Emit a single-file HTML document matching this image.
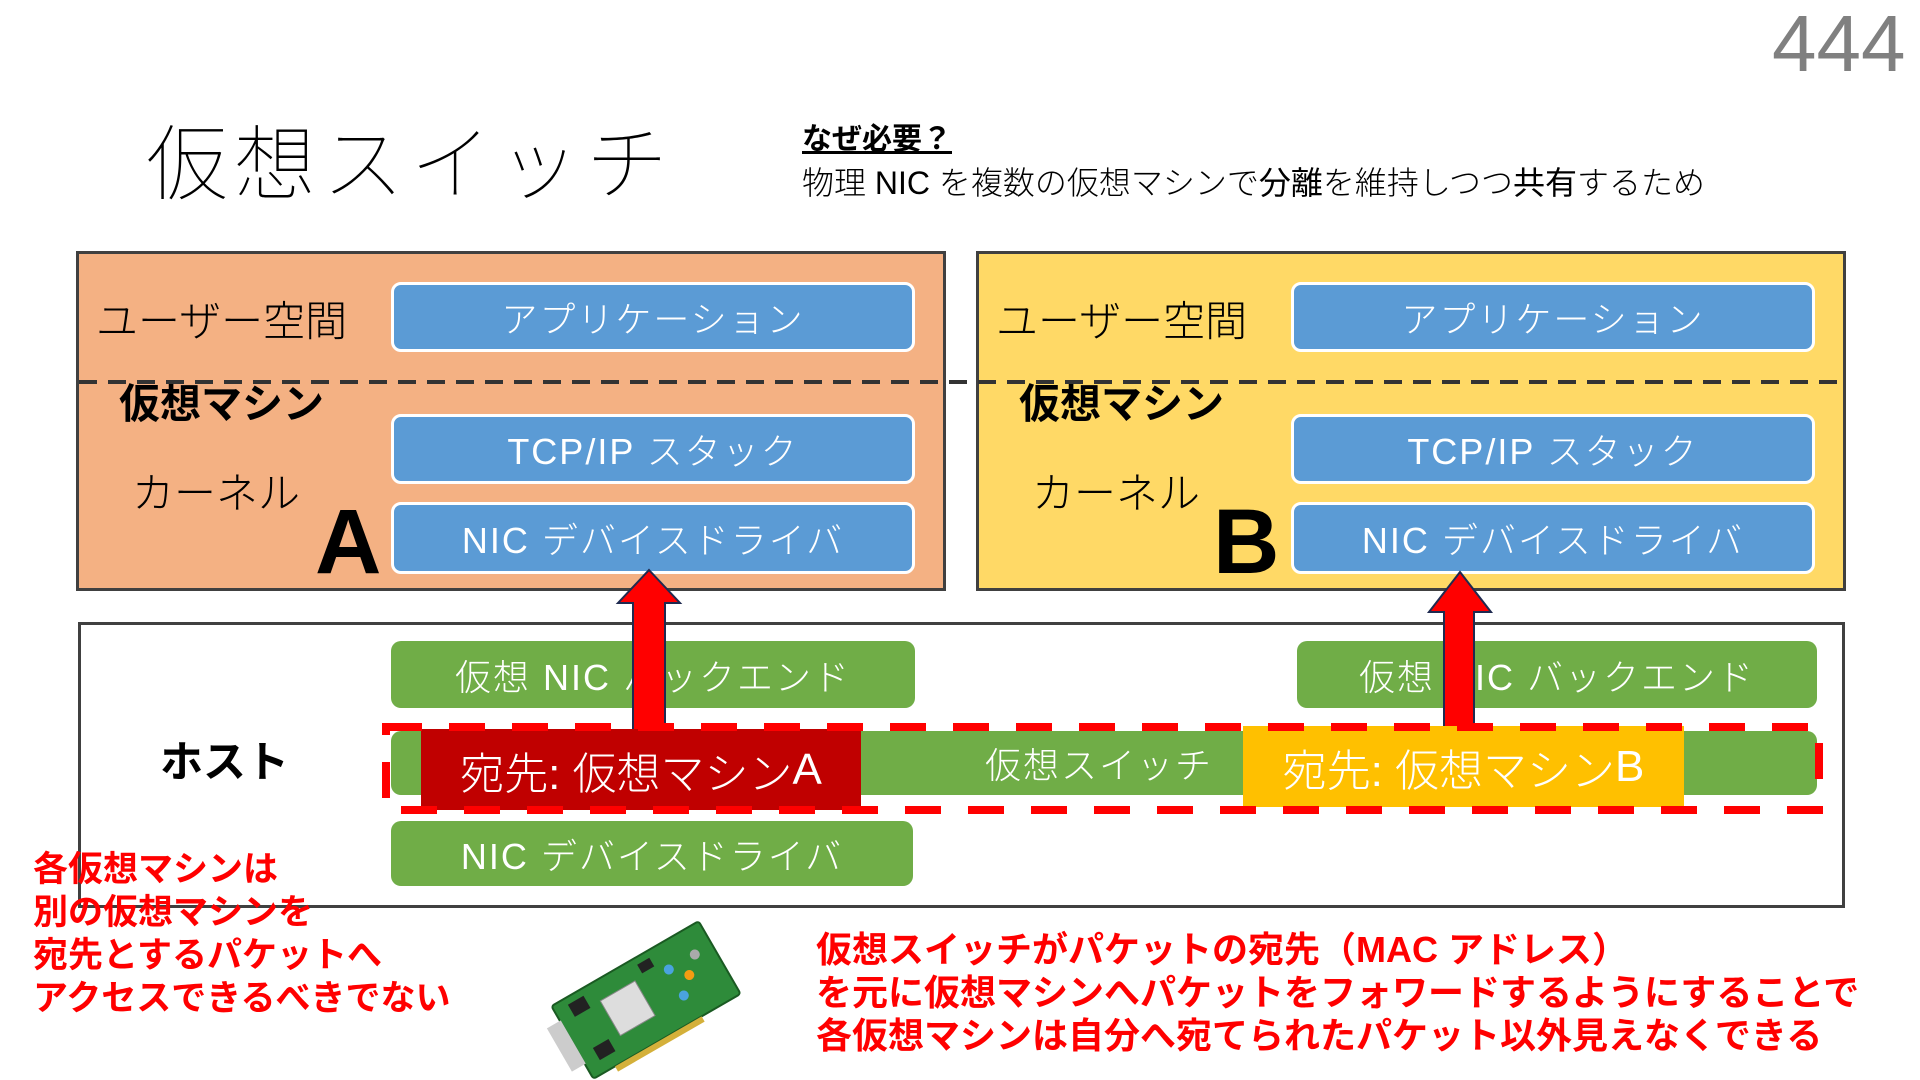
<!DOCTYPE html>
<html><head><meta charset="utf-8"><style>
body{margin:0;width:1920px;height:1080px;background:#fff;position:relative;overflow:hidden;font-family:"Liberation Sans","Noto Sans CJK JP",sans-serif}
.a{position:absolute;white-space:nowrap}
.vm{position:absolute;top:251px;width:864px;height:334px;border:3px solid #404040}
.blue{position:absolute;left:391px;width:524px;background:#5B9BD5;border:3px solid #fff;border-radius:10px;color:#fff;font-size:36px;display:flex;align-items:center;justify-content:center;box-sizing:border-box;font-weight:300;letter-spacing:2px}
.green{position:absolute;background:#70AD47;border-radius:10px;color:#fff;font-size:36px;display:flex;align-items:center;justify-content:center;font-weight:300;letter-spacing:2px}
.red{color:#FF0000;font-weight:bold;font-size:35px;line-height:43px}
</style></head><body>
<div class="a" style="left:1772px;top:-2px;font-size:80px;color:#808080;font-weight:300">444</div>
<div class="a" style="left:146px;top:98px;font-size:82px;font-weight:100;letter-spacing:6px">仮想スイッチ</div>
<div class="a" style="left:802px;top:114px;font-size:30px;font-weight:bold;text-decoration:underline">なぜ必要？</div>
<div class="a" style="left:802px;top:158px;font-size:32px;font-weight:300">物理 NIC を複数の仮想マシンで<b>分離</b>を維持しつつ<b>共有</b>するため</div>

<div class="vm" style="left:76px;background:#F4B183"></div>
<div class="vm" style="left:976px;background:#FFD966"></div>

<div style="position:absolute;left:0;top:0">
 <div class="a" style="left:96px;top:288px;font-size:42px;font-weight:300">ユーザー空間</div>
 <div class="blue" style="top:282px;height:70px">アプリケーション</div>
 <div class="a" style="left:119px;top:370px;font-size:41px;font-weight:bold">仮想マシン</div>
 <div class="blue" style="top:414px;height:70px">TCP/IP スタック</div>
 <div class="a" style="left:132px;top:460px;font-size:42px;font-weight:300">カーネル</div>
 <div class="a" style="left:315px;top:490px;font-size:92px;font-weight:bold">A</div>
 <div class="blue" style="top:502px;height:72px">NIC デバイスドライバ</div>
</div>
<div style="position:absolute;left:900px;top:0">
 <div class="a" style="left:96px;top:288px;font-size:42px;font-weight:300">ユーザー空間</div>
 <div class="blue" style="top:282px;height:70px">アプリケーション</div>
 <div class="a" style="left:119px;top:370px;font-size:41px;font-weight:bold">仮想マシン</div>
 <div class="blue" style="top:414px;height:70px">TCP/IP スタック</div>
 <div class="a" style="left:132px;top:460px;font-size:42px;font-weight:300">カーネル</div>
 <div class="a" style="left:313px;top:490px;font-size:92px;font-weight:bold">B</div>
 <div class="blue" style="top:502px;height:72px">NIC デバイスドライバ</div>
</div>

<div style="position:absolute;left:78px;top:622px;width:1761px;height:280px;border:3px solid #404040;background:#fff"></div>
<div class="a" style="left:160px;top:728px;font-size:43px;font-weight:bold">ホスト</div>
<div class="green" style="left:391px;top:641px;width:524px;height:67px">仮想 NIC バックエンド</div>
<div class="green" style="left:1297px;top:641px;width:520px;height:67px">仮想 NIC バックエンド</div>
<div class="green" style="left:391px;top:731px;width:1426px;height:64px"><span style="position:relative;left:-5px">仮想スイッチ</span></div>
<div class="green" style="left:391px;top:821px;width:522px;height:65px">NIC デバイスドライバ</div>

<svg width="1920" height="1080" style="position:absolute;left:0;top:0">
 <polygon points="649,570 680,603 665,603 665,736 633,736 633,603 618,603" fill="#FF0000" stroke="#1F2A50" stroke-width="2"/>
 <polygon points="1460,572 1491,612 1474,612 1474,736 1444,736 1444,612 1429,612" fill="#FF0000" stroke="#1F2A50" stroke-width="2"/>
</svg>
<div class="a" style="left:421px;top:729px;width:440px;height:81px;background:#C00000;color:#fff;font-size:44px;font-weight:300;display:flex;align-items:center;justify-content:center">宛先: 仮想マシン<b>A</b></div>
<div class="a" style="left:1243px;top:726px;width:441px;height:81px;background:#FFC000;color:#fff;font-size:44px;font-weight:300;display:flex;align-items:center;justify-content:center">宛先: 仮想マシン<b>B</b></div>

<svg width="1920" height="1080" style="position:absolute;left:0;top:0">
 <rect x="386" y="727" width="1433" height="83" fill="none" stroke="#FF0000" stroke-width="8" stroke-dasharray="36,27"/>
 <g transform="translate(646,1000) rotate(-30)">
  <rect x="-85" y="-42" width="170" height="84" rx="3" fill="#2E8B3A" stroke="#1a5a22" stroke-width="2"/>
  <rect x="-100" y="-25" width="16" height="50" fill="#ccc"/>
  <rect x="-40" y="-22" width="40" height="40" fill="#ddd" stroke="#888"/>
  <rect x="-70" y="-35" width="18" height="14" fill="#222"/>
  <rect x="-70" y="15" width="18" height="14" fill="#222"/>
  <rect x="10" y="-35" width="14" height="10" fill="#222"/>
  <circle cx="35" cy="-15" r="5" fill="#4aa3df"/><circle cx="50" cy="0" r="5" fill="#f39c12"/>
  <circle cx="35" cy="15" r="5" fill="#4aa3df"/><circle cx="65" cy="-15" r="5" fill="#aaa"/>
  <rect x="-60" y="42" width="100" height="6" fill="#d4b03a"/>
 </g>
</svg>

<div class="a red" style="left:33px;top:848px">各仮想マシンは<br>別の仮想マシンを<br>宛先とするパケットへ<br>アクセスできるべきでない</div>
<div class="a red" style="left:816px;top:928px;font-size:36px">仮想スイッチがパケットの宛先（MAC アドレス）<br>を元に仮想マシンへパケットをフォワードするようにすることで<br>各仮想マシンは自分へ宛てられたパケット以外見えなくできる</div>
<svg width="1920" height="20" style="position:absolute;left:0;top:372px"><line x1="79" y1="10" x2="1842" y2="10" stroke="#333" stroke-width="4" stroke-dasharray="18,11"/></svg>
</body></html>
